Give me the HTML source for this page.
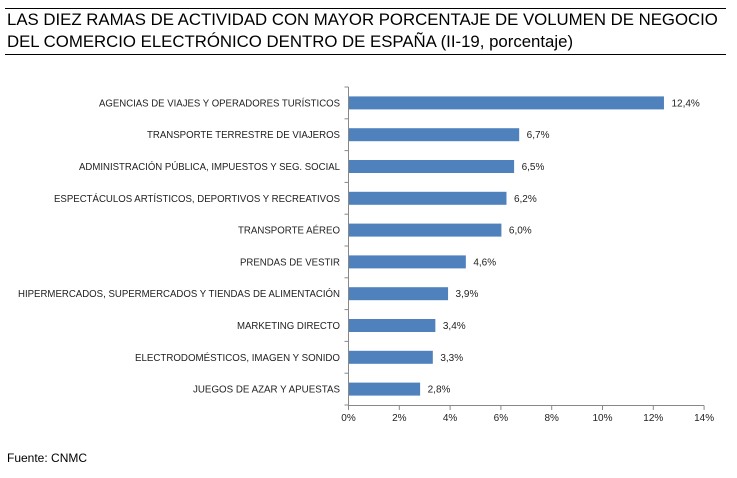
<!DOCTYPE html>
<html><head><meta charset="utf-8"><style>
body{margin:0;background:#fff;width:737px;height:473px;overflow:hidden;font-family:"Liberation Sans",sans-serif}
</style></head><body>
<svg width="737" height="473" xmlns="http://www.w3.org/2000/svg" font-family="Liberation Sans, sans-serif">
<line x1="5" y1="8.5" x2="726" y2="8.5" stroke="#000" stroke-width="1"/>
<line x1="5" y1="54.5" x2="726" y2="54.5" stroke="#000" stroke-width="1"/>
<text x="7" y="25" font-size="16.8" fill="#000">LAS DIEZ RAMAS DE ACTIVIDAD CON MAYOR PORCENTAJE DE VOLUMEN DE NEGOCIO</text>
<text x="7" y="47" font-size="16.8" fill="#000">DEL COMERCIO ELECTRÓNICO DENTRO DE ESPAÑA (II-19, porcentaje)</text>
<g id="chart"></g>
<text x="7" y="462" font-size="12" fill="#000">Fuente: CNMC</text>
</svg>
<script>
(function(){
var d=[["AGENCIAS DE VIAJES Y OPERADORES TURÍSTICOS",12.4,99],["TRANSPORTE TERRESTRE DE VIAJEROS",6.7,147],["ADMINISTRACIÓN PÚBLICA, IMPUESTOS Y SEG. SOCIAL",6.5,79],["ESPECTÁCULOS ARTÍSTICOS, DEPORTIVOS Y RECREATIVOS",6.2,54],["TRANSPORTE AÉREO",6.0,238],["PRENDAS DE VESTIR",4.6,240],["HIPERMERCADOS, SUPERMERCADOS Y TIENDAS DE ALIMENTACIÓN",3.9,18],["MARKETING DIRECTO",3.4,237],["ELECTRODOMÉSTICOS,  IMAGEN Y SONIDO",3.3,135],["JUEGOS DE AZAR Y APUESTAS",2.8,193]];
var x0=348.5,s=25.4,y0=87,st=31.8,h="";
h+='<line x1="'+x0+'" y1="'+y0+'" x2="'+x0+'" y2="405.5" stroke="#888"/>';
h+='<line x1="'+x0+'" y1="405.5" x2="704" y2="405.5" stroke="#888"/>';
for(var i=0;i<=10;i++){var y=y0+i*st;h+='<line x1="344.5" y1="'+y+'" x2="'+x0+'" y2="'+y+'" stroke="#888"/>';}
for(var k=0;k<=7;k++){var x=x0+k*2*s;h+='<line x1="'+x+'" y1="405.5" x2="'+x+'" y2="410" stroke="#888"/>';
h+='<text x="'+x+'" y="421" font-size="10" text-anchor="middle" fill="#222">'+(k*2)+'%</text>';}
d.forEach(function(r,i){var c=y0+st*(i+0.5);var w=r[1]*s;
h+='<rect x="'+(x0+0.5)+'" y="'+(c-6.5)+'" width="'+w+'" height="13" fill="#4f81bd"/>';
h+='<text x="'+r[2]+'" y="'+(c+3.5)+'" font-size="10" textLength="'+(340-r[2])+'" lengthAdjust="spacingAndGlyphs" fill="#222">'+r[0]+'</text>';
h+='<text x="'+(x0+w+8)+'" y="'+(c+3.5)+'" font-size="10" fill="#222">'+r[1].toFixed(1).replace(".",",")+'%</text>';});
document.getElementById("chart").innerHTML=h;
})();
</script>
</body></html>
